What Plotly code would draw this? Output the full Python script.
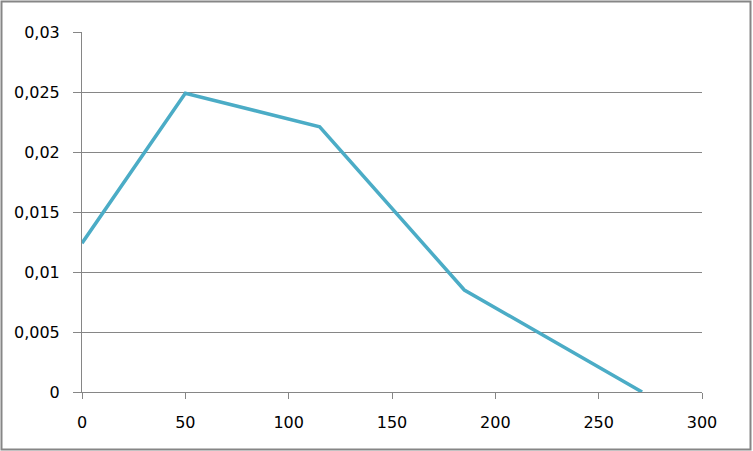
import plotly.graph_objects as go

x_vals = [0, 50, 115, 185, 271]
y_vals = [0.0124, 0.0249, 0.0221, 0.0085, 0.0]

y_tickvals = [0, 0.005, 0.01, 0.015, 0.02, 0.025, 0.03]
y_ticktext = ["0", "0,005", "0,01", "0,015", "0,02", "0,025", "0,03"]
x_tickvals = [0, 50, 100, 150, 200, 250, 300]
x_ticktext = ["0", "50", "100", "150", "200", "250", "300"]

W, H = 753, 451
L, R, T, B = 82, 51, 32, 59
pw, ph = W - L - R, H - T - B

fig = go.Figure()
fig.add_trace(go.Scatter(x=x_vals, y=y_vals, mode="lines",
                         line=dict(color="#4BACC6", width=3.5), showlegend=False,
                         cliponaxis=False))

grid = "#868686"
fig.update_layout(
    width=W, height=H,
    margin=dict(l=L, r=R, t=T, b=B),
    paper_bgcolor="white", plot_bgcolor="white",
    font=dict(family="DejaVu Sans", size=16, color="black"),
    xaxis=dict(range=[0, 300], tickvals=x_tickvals, ticktext=x_ticktext,
               showgrid=False, zeroline=False, showline=True, linecolor=grid, linewidth=1,
               ticks="outside", ticklen=6, tickcolor=grid, ticklabelstandoff=10),
    yaxis=dict(range=[0, 0.03], tickvals=y_tickvals, ticktext=y_ticktext,
               showgrid=True, gridcolor=grid, gridwidth=1, zeroline=False,
               showline=True, linecolor=grid, linewidth=1,
               ticks="outside", ticklen=8, tickcolor=grid, ticklabelstandoff=10),
    shapes=[dict(type="rect", xref="paper", yref="paper",
                 x0=(1.5 - L) / pw, x1=(750.5 - L) / pw,
                 y0=(H - B - 449.5) / ph, y1=(H - B - 1.5) / ph,
                 line=dict(color="#868686", width=2), layer="below")],
)

fig.write_html("out.html", config={"displayModeBar": False},
               post_script="document.body.style.margin='0';")
